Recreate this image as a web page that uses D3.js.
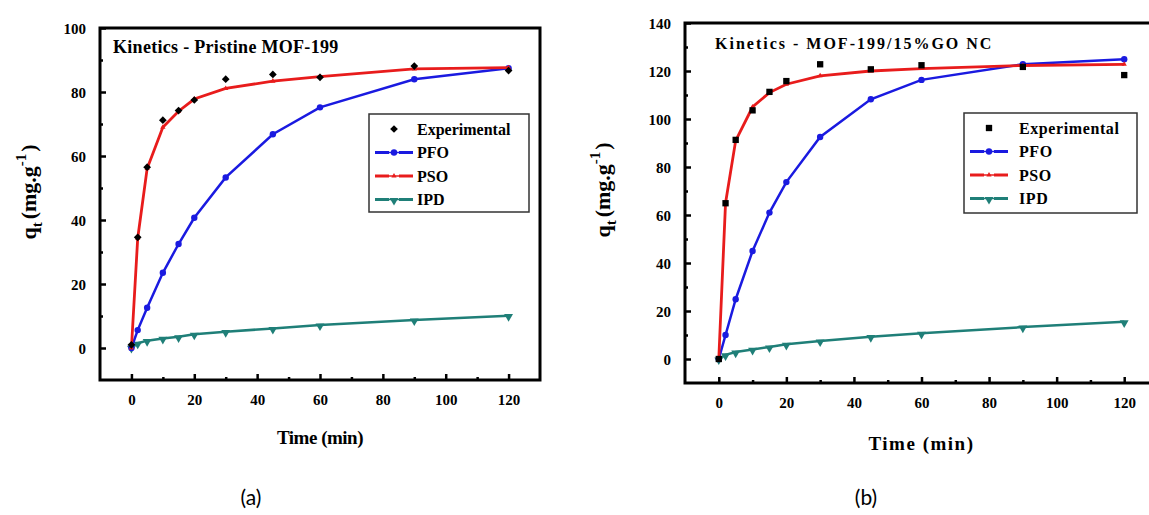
<!DOCTYPE html>
<html><head><meta charset="utf-8">
<script src="https://cdn.jsdelivr.net/npm/d3@7"></script>
<style>
html,body{margin:0;padding:0;background:#fff;}
svg{display:block;}
</style></head><body>
<svg id="chart" width="1149" height="515"></svg>
<script>
// ---------- data ----------
const times = [0, 2, 5, 10, 15, 20, 30, 45, 60, 90, 120];

const expA = [1, 34.6, 56.5, 71.2, 74.2, 77.5, 84, 85.5, 84.6, 88.1, 86.7];
const pfoA = [0, 5.6, 12.6, 23.5, 32.5, 40.7, 53.3, 66.8, 75.2, 84, 87.4];
const psoA = [0, 34.3, 56.1, 69, 74, 77.8, 81.1, 83.4, 84.8, 87.2, 87.6];
const ipdA = [0.2, 1.5, 2.3, 3.0, 3.5, 4.3, 5.1, 6.1, 7.2, 8.75, 10.1];

const expB = [0, 64.9, 91.3, 103.6, 111.3, 115.8, 122.8, 120.7, 122.4, 121.7, 118.3];
const pfoB = [0, 10, 24.9, 45, 61, 73.7, 92.5, 108.2, 116.3, 122.8, 124.9];
const psoB = [0, 65, 91, 105, 111, 114.5, 118, 120, 121, 122.3, 122.8];
const ipdB = [0, 1.7, 2.9, 4, 5, 6.1, 7.5, 9.3, 10.7, 13.3, 15.5];

const xTicks = [0, 20, 40, 60, 80, 100, 120];
const yTicksA = [0, 20, 40, 60, 80, 100];
const yTicksB = [0, 20, 40, 60, 80, 100, 120, 140];
const legendLabels = ["Experimental", "PFO", "PSO", "IPD"];
const titleA = "Kinetics - Pristine MOF-199";
const titleB = "Kinetics - MOF-199/15%GO NC";
const captions = ["(a)", "(b)"];

// ---------- styles ----------
const SERIF = "'Liberation Serif', 'Times New Roman', serif";
const SANS = "Lato, 'Open Sans', sans-serif";
const C = {exp:"#000000", pfo:"#1a1ae0", pso:"#e81c1c", ipd:"#1f7f78"};

const svg = d3.select("#chart");
svg.append("rect").attr("width",1149).attr("height",515).attr("fill","#fff");

function panel(cfg){
  const g = svg.append("g");
  const x = d3.scaleLinear().domain([-10,130]).range([cfg.left, cfg.right]);
  const y = d3.scaleLinear().domain(cfg.yDomain).range([cfg.bottom, cfg.top]);

  // minor ticks
  const minorX = d3.range(0,130,10).filter(v=>v%20!==0);
  const minorY = d3.range(0,cfg.yDomain[1]+1,10).filter(v=>v%20!==0);
  g.append("g").attr("transform",`translate(0,${cfg.bottom})`)
    .call(d3.axisBottom(x).tickValues(minorX).tickSize(-3).tickFormat(""))
    .call(a=>a.select(".domain").remove())
    .selectAll("line").attr("stroke","#000").attr("stroke-width",2.5);
  g.append("g").attr("transform",`translate(${cfg.left},0)`)
    .call(d3.axisLeft(y).tickValues(minorY).tickSize(-3).tickFormat(""))
    .call(a=>a.select(".domain").remove())
    .selectAll("line").attr("stroke","#000").attr("stroke-width",2.5);
  // major ticks
  const ax = g.append("g").attr("transform",`translate(0,${cfg.bottom})`)
    .call(d3.axisBottom(x).tickValues(xTicks).tickSize(-6).tickPadding(14).tickFormat(d3.format("d")));
  ax.select(".domain").remove();
  ax.selectAll("line").attr("stroke","#000").attr("stroke-width",2.5);
  ax.selectAll("text").style("font-family",SERIF).style("font-weight","bold")
    .style("font-size","15px").attr("fill","#000");
  const ay = g.append("g").attr("transform",`translate(${cfg.left},0)`)
    .call(d3.axisLeft(y).tickValues(cfg.yTicks).tickSize(-6).tickPadding(14).tickFormat(d3.format("d")));
  ay.select(".domain").remove();
  ay.selectAll("line").attr("stroke","#000").attr("stroke-width",2.5);
  ay.selectAll("text").style("font-family",SERIF).style("font-weight","bold")
    .style("font-size","15px").attr("fill","#000").attr("dy","0.34em");

  // frame
  g.append("rect").attr("x",cfg.left).attr("y",cfg.top)
    .attr("width",cfg.right-cfg.left).attr("height",cfg.bottom-cfg.top)
    .attr("fill","none").attr("stroke","#000").attr("stroke-width",3);

  const line = d3.line().x((d,i)=>x(times[i])).y(d=>y(d));
  const plot = g.append("g");
  // IPD
  plot.append("path").datum(cfg.ipd).attr("d",line).attr("fill","none")
    .attr("stroke",C.ipd).attr("stroke-width",2.5);
  plot.selectAll(".ipd").data(cfg.ipd).join("path")
    .attr("d",d3.symbol(d3.symbolTriangle,34))
    .attr("transform",(d,i)=>`translate(${x(times[i])},${y(d)+1}) rotate(180)`)
    .attr("fill",C.ipd);
  // PFO
  plot.append("path").datum(cfg.pfo).attr("d",line).attr("fill","none")
    .attr("stroke",C.pfo).attr("stroke-width",2.5);
  plot.selectAll(".pfo").data(cfg.pfo).join("circle")
    .attr("cx",(d,i)=>x(times[i])).attr("cy",d=>y(d)).attr("r",3.2).attr("fill",C.pfo);
  // PSO
  plot.append("path").datum(cfg.pso).attr("d",line).attr("fill","none")
    .attr("stroke",C.pso).attr("stroke-width",2.8);
  plot.selectAll(".pso").data(cfg.pso).join("path")
    .attr("transform",(d,i)=>`translate(${x(times[i])},${y(d)})`)
    .attr("d",d3.symbol(d3.symbolTriangle,12)).attr("fill",C.pso);
  // Experimental
  plot.selectAll(".exp").data(cfg.exp).join("path")
    .attr("transform",(d,i)=>`translate(${x(times[i])},${y(d)})`+(cfg.expSymbol==="diamond"?" rotate(45)":""))
    .attr("d",d3.symbol(d3.symbolSquare, cfg.expSymbol==="diamond"?30:40)).attr("fill",C.exp);

  // title
  g.append("text").attr("x",cfg.titleX).attr("y",cfg.titleY).text(cfg.title)
    .style("font-family",SERIF).style("font-weight","bold").style("font-size",cfg.titleSize+"px")
    .style("letter-spacing",cfg.titleLs+"px").attr("fill","#000");

  // legend
  const L = cfg.legend;
  g.append("rect").attr("x",L.x).attr("y",L.y).attr("width",L.w).attr("height",L.h)
    .attr("fill","#fff").attr("stroke","#333").attr("stroke-width",1.5);
  const keys = ["exp","pfo","pso","ipd"];
  keys.forEach((k,i)=>{
    const cy = L.y + 15 + i*23.5;
    const lg = g.append("g");
    const mx = L.x + 25;
    if(k!=="exp"){
      lg.append("line").attr("x1",mx-19).attr("x2",mx-5).attr("y1",cy).attr("y2",cy)
        .attr("stroke",C[k]).attr("stroke-width",3);
      lg.append("line").attr("x1",mx+5).attr("x2",mx+19).attr("y1",cy).attr("y2",cy)
        .attr("stroke",C[k]).attr("stroke-width",3);
      lg.append("line").attr("x1",mx-5).attr("x2",mx+5).attr("y1",cy).attr("y2",cy)
        .attr("stroke",C[k]).attr("stroke-width",1.5);
    }
    if(k==="exp"){
      lg.append("path").attr("transform",`translate(${mx},${cy})`+(cfg.expSymbol==="diamond"?" rotate(45)":""))
        .attr("d",d3.symbol(d3.symbolSquare, cfg.expSymbol==="diamond"?30:40)).attr("fill",C.exp);
    } else if(k==="pfo"){
      lg.append("circle").attr("cx",mx).attr("cy",cy).attr("r",3.2).attr("fill",C.pfo);
    } else if(k==="pso"){
      lg.append("path").attr("transform",`translate(${mx},${cy})`).attr("d",d3.symbol(d3.symbolTriangle,12)).attr("fill",C.pso);
    } else {
      lg.append("path").attr("transform",`translate(${mx},${cy+1}) rotate(180)`).attr("d",d3.symbol(d3.symbolTriangle,34)).attr("fill",C.ipd);
    }
    lg.append("text").attr("x",L.x+L.textDx).attr("y",cy).attr("dy","0.35em")
      .text(legendLabels[i]).style("font-family",SERIF).style("font-weight","bold").style("font-size","16px")
      .style("letter-spacing",cfg.legendLs+"px").attr("fill","#000");
  });

  // axis titles
  g.append("text").attr("x",(x(0)+x(120))/2).attr("y",cfg.xTitleY)
    .attr("text-anchor","middle").style("font-family",SERIF).style("font-weight","bold").style("font-size","19px")
    .style("letter-spacing",cfg.xTitleLs+"px").attr("fill","#000").text(cfg.xTitle);
  const yt = g.append("text").attr("transform",`translate(${cfg.yTitleX},${cfg.yTitleY}) rotate(-90)`)
    .attr("text-anchor","middle").style("font-family",SERIF).style("font-weight","bold").style("font-size","22px").attr("fill","#000");
  yt.append("tspan").text("q");
  yt.append("tspan").style("font-size","15px").attr("dy",6).text("t");
  yt.append("tspan").attr("dy",-6).attr("dx",3).text("(mg.g");
  yt.append("tspan").style("font-size","15px").attr("dy",-10).text("-1");
  yt.append("tspan").attr("dy",10).attr("dx",2).text(")");

  // caption
  g.append("text").attr("x",cfg.capX).attr("y",505).attr("text-anchor","middle")
    .style("font-family",SANS).style("font-size","21px").attr("fill","#000").text(cfg.caption);
}

panel({left:100, right:540, top:28, bottom:380, yDomain:[-10,100], yTicks:yTicksA,
  exp:expA, pfo:pfoA, pso:psoA, ipd:ipdA, expSymbol:"diamond",
  title:titleA, titleX:113, titleY:53, titleSize:18, titleLs:0.3,
  legend:{x:369,y:114,w:160,h:98,textDx:48}, legendLs:0,
  xTitle:"Time (min)", xTitleY:444, xTitleLs:-0.5, yTitleX:36, yTitleY:192,
  caption:captions[0], capX:251});

panel({left:685, right:1158, top:23, bottom:383, yDomain:[-10,140], yTicks:yTicksB,
  exp:expB, pfo:pfoB, pso:psoB, ipd:ipdB, expSymbol:"square",
  title:titleB, titleX:715, titleY:49, titleSize:16, titleLs:2,
  legend:{x:964,y:113,w:173,h:100,textDx:55}, legendLs:0.6,
  xTitle:"Time (min)", xTitleY:450, xTitleLs:1.5, yTitleX:610, yTitleY:190,
  caption:captions[1], capX:866});
</script>
</body></html>
